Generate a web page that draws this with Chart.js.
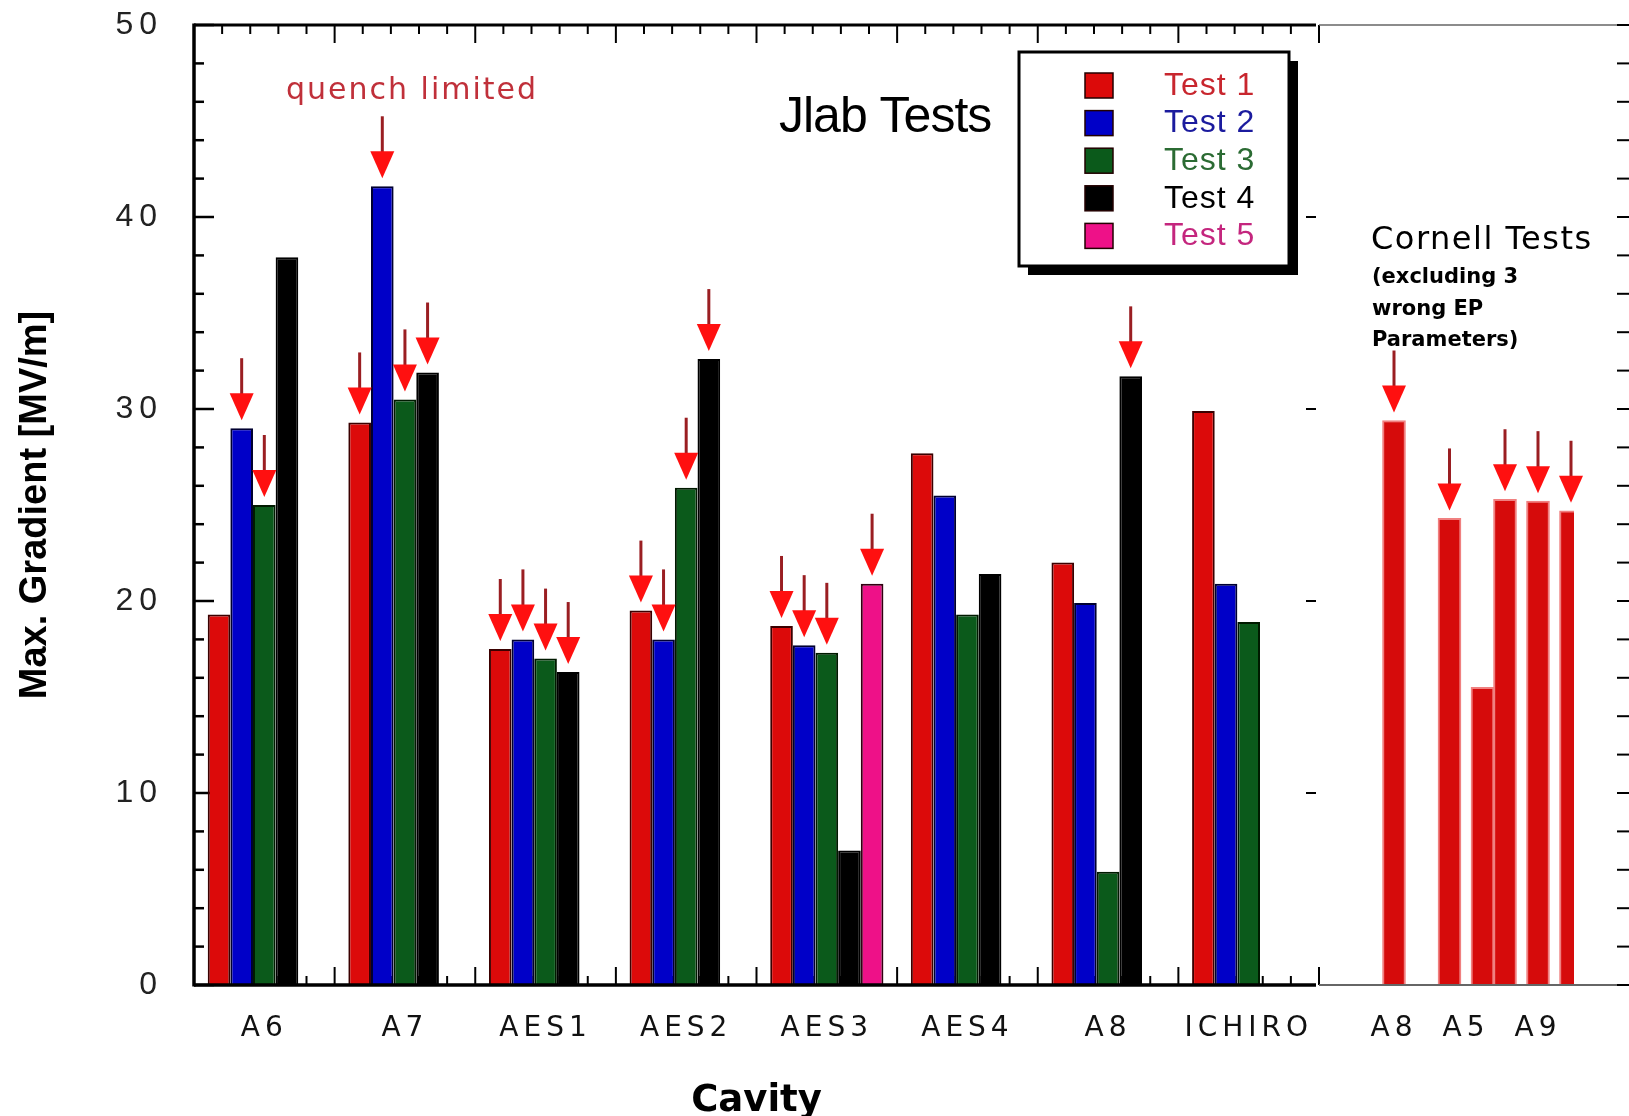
<!DOCTYPE html>
<html>
<head>
<meta charset="utf-8">
<title>Max. Gradient per cavity</title>
<script src="https://cdn.jsdelivr.net/npm/chart.js@4.4.1/dist/chart.umd.min.js"></script>
<style>
  html, body { margin: 0; padding: 0; background: #fff; }
  #wrap { position: relative; width: 1629px; height: 1116px; }
  canvas { position: absolute; top: 0; }
  #jlab { left: 0; }
  #cornell { left: 1319px; }
</style>
</head>
<body>
<div id="wrap">
  <canvas id="jlab" width="1629" height="1116"></canvas>
  <canvas id="cornell" width="310" height="1116"></canvas>
</div>
<script>
// Jlab tests, max. gradient in MV/m
var cavities = ['A6', 'A7', 'AES1', 'AES2', 'AES3', 'AES4', 'A8', 'ICHIRO'];
var test1 = [19.3, 29.3, 17.5, 19.5, 18.7, 27.7, 22.0, 29.9];
var test2 = [29.0, 41.6, 18.0, 18.0, 17.7, 25.5, 19.9, 20.9];
var test3 = [25.0, 30.5, 17.0, 25.9, 17.3, 19.3, 5.9, 18.9];
var test4 = [37.9, 31.9, 16.3, 32.6, 7.0, 21.4, 31.7, null];
var test5 = [null, null, null, null, 20.9, null, null, null];

// 1 = quench limited (red arrow on the bar)
var quench1 = [0, 1, 1, 1, 1, 0, 0, 0];
var quench2 = [1, 1, 1, 1, 1, 0, 0, 0];
var quench3 = [1, 1, 1, 1, 1, 0, 0, 0];
var quench4 = [0, 1, 1, 1, 0, 0, 1, 0];
var quench5 = [0, 0, 0, 0, 1, 0, 0, 0];

// Cornell tests
var cornellCavities = ['A8', 'A5', 'A9'];
var cornellRun1 = [29.4, 24.3, 25.3];
var cornellRun2 = [null, 15.5, 25.2];
var cornellRun3 = [null, null, 24.7];
var cornellQuench1 = [1, 1, 1];
var cornellQuench2 = [0, 0, 1];
var cornellQuench3 = [0, 0, 1];

var gradientTicks = [0, 10, 20, 30, 40, 50];

function seg(ctx, x1, y1, x2, y2, w, color) {
  ctx.beginPath();
  ctx.lineWidth = w;
  ctx.strokeStyle = color || '#000';
  ctx.moveTo(x1, y1);
  ctx.lineTo(x2, y2);
  ctx.stroke();
}

function noOverflow(s) {
  s.paddingTop = 0;
  s.paddingBottom = 0;
  s.paddingLeft = 0;
  s.paddingRight = 0;
}

// tick labels of this picture are widely spaced
var spacedTicks = {
  id: 'spacedTicks',
  afterLayout: function (chart, args, opts) {
    Object.keys(chart.scales).forEach(function (id) {
      var scale = chart.scales[id];
      if (!opts[id] || scale._spaced) return;
      var draw = scale.drawLabels;
      scale.drawLabels = function (area) {
        this.ctx.save();
        this.ctx.letterSpacing = opts[id];
        draw.call(this, area);
        this.ctx.restore();
      };
      scale._spaced = true;
    });
  }
};

var quenchArrows = {
  id: 'quenchArrows',
  afterDatasetsDraw: function (chart) {
    var ctx = chart.ctx;
    ctx.save();
    chart.data.datasets.forEach(function (ds, i) {
      var bars = chart.getDatasetMeta(i).data;
      ds.quench.forEach(function (q, j) {
        if (!q || ds.data[j] == null) return;
        var bx = bars[j].x, tip = bars[j].y - 8;
        seg(ctx, bx, tip - 62, bx, tip - 14, 3, '#9a1e22');
        ctx.beginPath();
        ctx.moveTo(bx - 12, tip - 27);
        ctx.lineTo(bx + 12, tip - 27);
        ctx.lineTo(bx, tip);
        ctx.closePath();
        ctx.fillStyle = '#ff1010';
        ctx.fill();
      });
    });
    ctx.restore();
  }
};

var jlabFrame = {
  id: 'jlabFrame',
  beforeDatasetsDraw: function (chart) {
    var ctx = chart.ctx, a = chart.chartArea, y = chart.scales.y, x = chart.scales.x;
    var w = x.getPixelForValue(1) - x.getPixelForValue(0);
    ctx.save();
    for (var v = 0; v <= 50; v += 2) {
      var py = y.getPixelForValue(v);
      seg(ctx, a.left, py, a.left + (v % 10 === 0 ? 20 : 10), py, 2.5);
    }
    for (var k = 1; k <= cavities.length * 5; k++) {
      var px = a.left + k * w / 5;
      var len = k % 5 === 0 ? 18 : 9;
      seg(ctx, px, a.top, px, a.top + len, 2);
      seg(ctx, px, a.bottom, px, a.bottom - len, 2);
    }
    for (var t = 10; t < 50; t += 10) {
      var ty = y.getPixelForValue(t);
      seg(ctx, a.right - 13, ty, a.right - 3, ty, 2);
    }
    ctx.restore();
  },
  afterDatasetsDraw: function (chart) {
    var ctx = chart.ctx, a = chart.chartArea;
    ctx.save();
    seg(ctx, a.left, a.top, a.right - 3, a.top, 3);
    seg(ctx, a.left, a.bottom, a.right - 3, a.bottom, 3.5);
    seg(ctx, a.left, a.top - 1.5, a.left, a.bottom + 1.5, 3.5);
    ctx.restore();
  },
  afterDraw: function (chart) {
    var ctx = chart.ctx;
    ctx.save();
    ctx.fillStyle = '#000';
    ctx.font = '50px "Liberation Sans"';
    ctx.letterSpacing = '-1px';
    ctx.fillText('Jlab Tests', 779, 132);
    ctx.fillStyle = '#c0303a';
    ctx.font = '30px "DejaVu Sans"';
    ctx.letterSpacing = '2px';
    ctx.fillText('quench limited', 286, 99);

    // legend box with drop shadow
    var bx = 1019, by = 52, bw = 270, bh = 214;
    ctx.letterSpacing = '1px';
    ctx.fillStyle = '#000';
    ctx.fillRect(bx + 9, by + 9, bw, bh);
    ctx.fillStyle = '#fff';
    ctx.fillRect(bx, by, bw, bh);
    ctx.lineWidth = 3;
    ctx.strokeStyle = '#000';
    ctx.strokeRect(bx, by, bw, bh);
    ctx.font = '32px "Liberation Sans"';
    ctx.textBaseline = 'middle';
    chart.data.datasets.forEach(function (ds, i) {
      var cy = 85 + i * 37.6;
      ctx.fillStyle = ds.backgroundColor;
      ctx.fillRect(1085, cy - 12, 28, 25);
      ctx.lineWidth = 1.5;
      ctx.strokeStyle = '#200';
      ctx.strokeRect(1085, cy - 12, 28, 25);
      ctx.fillStyle = ds.legendColor;
      ctx.fillText(ds.label, 1164, cy + 1);
    });
    ctx.restore();
  }
};

var cornellFrame = {
  id: 'cornellFrame',
  afterDatasetsDraw: function (chart) {
    var ctx = chart.ctx, a = chart.chartArea, y = chart.scales.y;
    ctx.save();
    seg(ctx, 0, a.top, 306, a.top, 1.5, '#666');
    seg(ctx, 0, a.bottom, 306, a.bottom, 2, '#666');
    for (var v = 0; v <= 50; v += 2) {
      var py = y.getPixelForValue(v);
      seg(ctx, 298, py, 310, py, 2);
    }
    ctx.fillStyle = '#000';
    ctx.font = '32px "DejaVu Sans"';
    ctx.letterSpacing = '1.5px';
    ctx.fillText('Cornell Tests', 52, 249);
    ctx.font = 'bold 21px "DejaVu Sans"';
    ctx.letterSpacing = '0px';
    ['(excluding 3', 'wrong EP', 'Parameters)'].forEach(function (t, i) {
      ctx.fillText(t, 53, 283 + i * 31.5);
    });
    ctx.restore();
  }
};

var tickFont = { family: 'DejaVu Sans', size: 28 };

new Chart(document.getElementById('jlab'), {
  type: 'bar',
  data: {
    labels: cavities,
    datasets: [
      { label: 'Test 1', data: test1, quench: quench1, backgroundColor: '#dc0a0a', borderColor: '#3a0000', legendColor: '#c8262e' },
      { label: 'Test 2', data: test2, quench: quench2, backgroundColor: '#0000c8', borderColor: '#000030', legendColor: '#1b1b9e' },
      { label: 'Test 3', data: test3, quench: quench3, backgroundColor: '#0b5a1b', borderColor: '#001a00', legendColor: '#2b6b33' },
      { label: 'Test 4', data: test4, quench: quench4, backgroundColor: '#000000', borderColor: '#000000', legendColor: '#000000' },
      { label: 'Test 5', data: test5, quench: quench5, backgroundColor: '#ee1188', borderColor: '#300010', legendColor: '#c4267e' }
    ]
  },
  options: {
    responsive: false,
    animation: false,
    devicePixelRatio: 1,
    layout: { padding: { top: 25, right: 310, bottom: 0, left: 0 } },
    datasets: { bar: { borderWidth: 2, categoryPercentage: 0.805, barPercentage: 1 } },
    scales: {
      x: {
        afterFit: function (s) { s.height = 131; noOverflow(s); },
        grid: { display: false, drawTicks: false },
        border: { display: false },
        ticks: { padding: 27, color: '#111', font: tickFont, maxRotation: 0 },
        title: { display: true, text: 'Cavity', color: '#000', padding: 0,
                 font: { family: 'DejaVu Sans', size: 37, weight: 'bold', lineHeight: 0.8 } }
      },
      y: {
        min: 0,
        max: 50,
        afterBuildTicks: function (s) { s.ticks = gradientTicks.map(function (v) { return { value: v }; }); },
        afterFit: function (s) { s.width = 194; noOverflow(s); },
        grid: { display: false, drawTicks: false },
        border: { display: false },
        ticks: { padding: 31, color: '#222', font: { family: 'Liberation Sans', size: 32 } },
        title: { display: true, text: 'Max. Gradient [MV/m]', color: '#000', padding: { top: 17, bottom: 0 },
                 font: { family: 'Liberation Sans', size: 38, weight: 'bold', lineHeight: 1 } }
      }
    },
    plugins: {
      legend: { display: false },
      tooltip: { enabled: false },
      colors: { enabled: false },
      spacedTicks: { x: '5px', y: '6px' }
    }
  },
  plugins: [spacedTicks, jlabFrame, quenchArrows]
});

var cornellStyle = { backgroundColor: '#d60b0b', borderColor: '#f08080', borderWidth: 2 };

new Chart(document.getElementById('cornell'), {
  type: 'bar',
  data: {
    labels: cornellCavities,
    datasets: [
      Object.assign({ label: 'Cornell 1', data: cornellRun1, quench: cornellQuench1 }, cornellStyle),
      Object.assign({ label: 'Cornell 2', data: cornellRun2, quench: cornellQuench2 }, cornellStyle),
      Object.assign({ label: 'Cornell 3', data: cornellRun3, quench: cornellQuench3 }, cornellStyle)
    ]
  },
  options: {
    responsive: false,
    animation: false,
    devicePixelRatio: 1,
    layout: { padding: { top: 25, right: 55, bottom: 0, left: 39 } },
    datasets: { bar: { skipNull: true, barThickness: 33, maxBarThickness: 23 } },
    scales: {
      x: {
        afterFit: function (s) { s.height = 131; noOverflow(s); },
        grid: { display: false, drawTicks: false },
        border: { display: false },
        ticks: { padding: 27, color: '#111', font: tickFont, maxRotation: 0 }
      },
      y: { display: false, min: 0, max: 50 }
    },
    plugins: {
      legend: { display: false },
      tooltip: { enabled: false },
      colors: { enabled: false },
      spacedTicks: { x: '5px' }
    }
  },
  plugins: [spacedTicks, cornellFrame, quenchArrows]
});
</script>
</body>
</html>
